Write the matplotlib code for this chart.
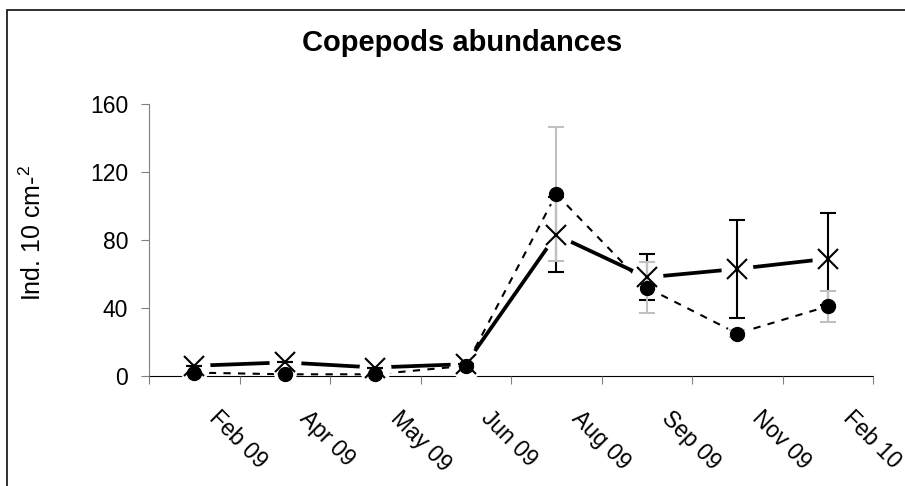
import numpy as np
import matplotlib.pyplot as plt
from matplotlib.patches import Rectangle

plt.rcParams['font.family'] = ['Liberation Sans', 'DejaVu Sans']
plt.rcParams['mathtext.fontset'] = 'custom'
plt.rcParams['mathtext.rm'] = 'Liberation Sans'

months = ["Feb 09", "Apr 09", "May 09", "Jun 09", "Aug 09", "Sep 09", "Nov 09", "Feb 10"]
# solid line, X markers, black error bars
cross_vals = [6, 8, 5, 7, 83, 58, 63, 69]
cross_err = [0, 0, 0, 0, 22, 13.5, 29, 27]
# dotted line, circle markers, grey error bars
dot_vals = [2, 1, 1, 6, 107, 52, 25, 41]
dot_err = [0, 0, 0, 0, 39.5, 15, 2, 9]

x = np.arange(len(months)) + 0.5

fig = plt.figure(figsize=(9.05, 4.86), dpi=100)
ax = fig.add_axes([149 / 905, 110 / 486, (873 - 149) / 905, (376 - 104) / 486])

# outer chart frame
fig.patches.append(Rectangle((7 / 905, -0.1), 1.2, (486 - 10) / 486 + 0.1,
                             transform=fig.transFigure, fill=False,
                             edgecolor='#202020', linewidth=1.3))

# lines
ax.plot(x, cross_vals, color='black', linewidth=2.7, zorder=2)
ax.plot(x, dot_vals, color='black', linewidth=1.5, linestyle=(0, (3.5, 3.5)), zorder=2)
# white halo around markers (Excel-style gaps in the lines)
ax.plot(x, cross_vals, linestyle='none', marker='o', markersize=23,
        markerfacecolor='white', markeredgecolor='none', zorder=3, clip_on=False)
ax.plot(x, dot_vals, linestyle='none', marker='o', markersize=16,
        markerfacecolor='white', markeredgecolor='none', zorder=3, clip_on=False)

ax.errorbar(x, cross_vals, yerr=cross_err, fmt='none', ecolor='black',
            elinewidth=1.5, capsize=5.5, capthick=1.5, zorder=4)
ax.errorbar(x, dot_vals, yerr=dot_err, fmt='none', ecolor='#c0c0c0',
            elinewidth=1.5, capsize=5.5, capthick=1.5, zorder=4.5)
ax.plot(x, cross_vals, linestyle='none', color='black', marker='x',
        markersize=15, markeredgewidth=1.5, zorder=5, clip_on=False)
ax.plot(x, dot_vals, linestyle='none', color='black', marker='o',
        markersize=10, zorder=6, clip_on=False)

ax.set_xlim(0, len(months))
ax.set_ylim(0, 160)
ax.set_yticks([0, 40, 80, 120, 160])
ax.set_xticks(np.arange(len(months) + 1))
ax.set_xticklabels([])
for xi, lab in zip(x, months):
    ax.text(xi + 0.155, -25.3, lab, rotation=-45, rotation_mode='anchor',
            ha='left', va='baseline', fontsize=16.5)

ax.spines['top'].set_visible(False)
ax.spines['right'].set_visible(False)
ax.spines['left'].set_color('#808080')
ax.spines['left'].set_zorder(1)
ax.spines['bottom'].set_zorder(1)
ax.tick_params(axis='y', direction='out', length=6, pad=9, labelsize=16.5,
               color='#808080')
ax.tick_params(axis='x', direction='out', length=6, color='#808080')

fig.text(33 / 905, 1 - 233 / 486, "Ind. 10 cm-$^{2}$", rotation=90, ha='center',
         va='center', fontsize=18)
fig.text(462 / 905, 1 - 51 / 486, "Copepods abundances", ha='center', va='baseline',
         fontsize=21, fontweight='bold')

fig.savefig("out.png", dpi=100)
